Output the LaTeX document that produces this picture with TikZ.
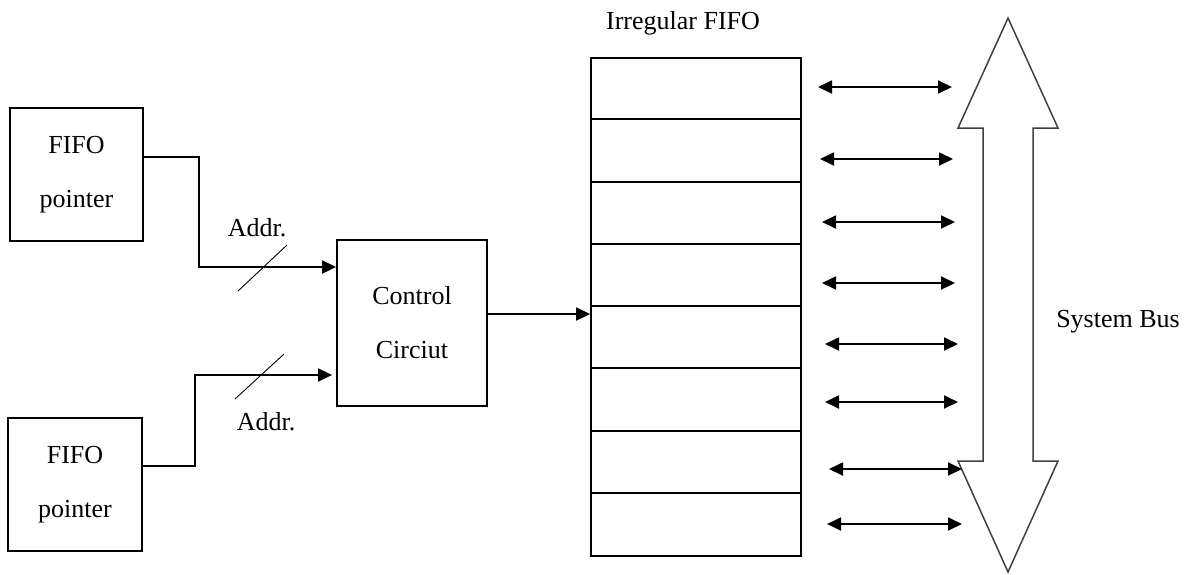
\documentclass[tikz,border=0pt]{standalone}
\usepackage{fontspec}
\setmainfont{Liberation Serif}
\usetikzlibrary{arrows.meta,calc}

\tikzset{
  txt/.style={font=\fontsize{26}{54}\selectfont, inner sep=0pt},
  block/.style={draw, line width=1.8pt, rectangle, inner sep=0pt, align=center,
                font=\fontsize{26}{54}\selectfont},
  tip/.style={Triangle[length=14pt,width=13pt]},
  conn/.style={line width=1.8pt, -{Triangle[length=14pt,width=13pt]}},
  busline/.style={line width=1.8pt, {Triangle[length=14pt,width=13pt]}-{Triangle[length=14pt,width=13pt]}},
  busmark/.style={line width=0.9pt},
  cell/.style={line width=1.8pt},
  bigarrow/.style={draw=black!75, line width=1.5pt, fill=white, line join=miter}
}

\begin{document}
\begin{tikzpicture}[x=1pt,y=-1pt]
\useasboundingbox (0,0) rectangle (1190,574);

% blocks
\node[block, minimum width=133pt, minimum height=133pt] (p1) at (76.5,174.5) {FIFO\\pointer};
\node[block, minimum width=134pt, minimum height=133pt] (p2) at (75,484.5) {FIFO\\pointer};
\node[block, minimum width=150pt, minimum height=166pt] (ctrl) at (412,323) {Control\\Circiut};
\node[draw, line width=1.8pt, rectangle, minimum width=210pt, minimum height=498pt, inner sep=0pt] (fifo) at (696,307) {};

% FIFO cells
\foreach \i in {1,...,7}
  \draw[cell] ($(fifo.north west)+(0,62.25*\i)$) -- ++(210,0);

\node[txt] (title) at (683,23) {Irregular FIFO};

% address paths into the control circuit
\draw[conn] ([yshift=17.5pt]p1.east) -- ++(55,0) |- ([yshift=56pt]ctrl.west);
\draw[conn, shorten >=4pt] ([yshift=18.5pt]p2.east) -- ++(52,0) |- ([yshift=-52pt]ctrl.west);
\draw[conn] ([yshift=9pt]ctrl.east) -- ([yshift=9pt]ctrl.east -| fifo.west);

% bus-width marks and labels
\coordinate (s1a) at (238,291); \coordinate (s1b) at (287,245);
\coordinate (s2a) at (235,399); \coordinate (s2b) at (284,354);
\draw[busmark] (s1a) -- (s1b);
\draw[busmark] (s2a) -- (s2b);
\node[txt] (addr1) at (257,228) {Addr.};
\node[txt] (addr2) at (266,422) {Addr.};

% system bus
\coordinate (bt) at (1008,18);
\coordinate (bb) at (1008,572);
\draw[bigarrow] (bt) -- (1058,128) -- (1033,128) -- (1033,461) -- (1058,461)
  -- (bb) -- (958,461) -- (983,461) -- (983,128) -- (958,128) -- cycle;
\node[txt] (bus) at (1118,322) {System Bus};

% data links between FIFO cells and the bus
\foreach \y/\xa/\xb [count=\k] in {87/818/952, 159/820/953, 222/822/955, 283/822/955,
                                   344/825/958, 402/825/958, 469/829/962, 524/827/962} {
  \coordinate (l\k) at (\xa,\y);
  \coordinate (r\k) at (\xb,\y);
  \draw[busline] (l\k) -- (r\k);
}
\end{tikzpicture}
\end{document}
